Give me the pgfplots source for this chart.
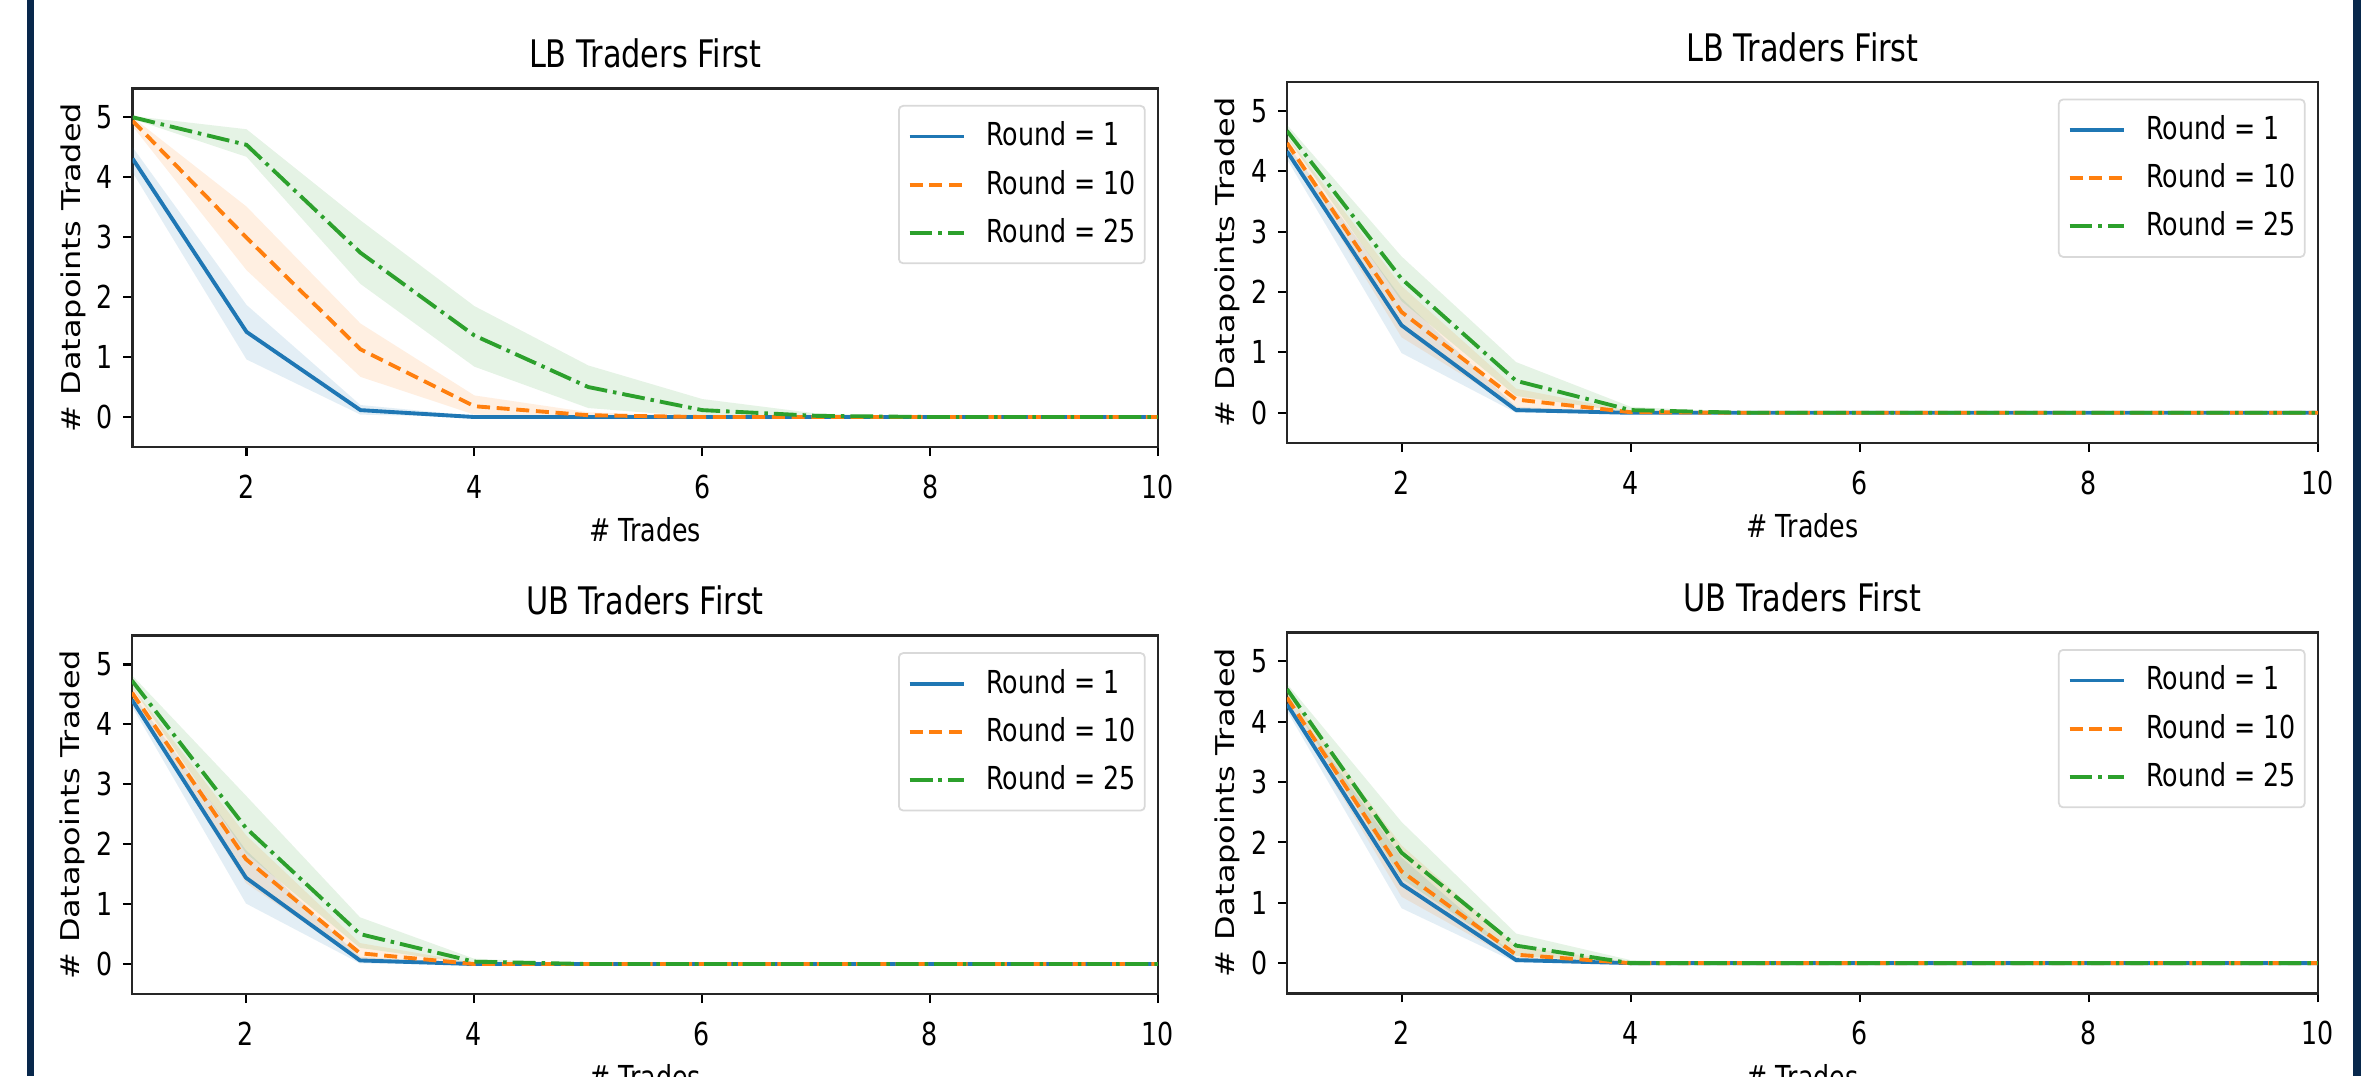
\documentclass[border=0pt]{standalone}
\usepackage{pgfplots}
\pgfplotsset{compat=1.18}
\usepackage{fontspec}
\setmainfont{DejaVu Sans}[FakeStretch=0.8]
\newfontfamily\ylabfont{DejaVu Sans}
\definecolor{cblue}{HTML}{1F77B4}
\definecolor{corange}{HTML}{FF7F0E}
\definecolor{cgreen}{HTML}{2CA02C}
\definecolor{navy}{RGB}{8,40,76}
\pgfplotsset{
  panel/.style={
    scale only axis, anchor=south west,
    xmin=1, xmax=10, ymin=-0.5, ymax=5.48,
    xtick={2,4,6,8,10}, ytick={0,1,2,3,4,5},
    tick pos=left, tick align=outside,
    major tick length=2.6pt,
    every tick/.style={black, line width=0.6pt},
    axis line style={black!85, line width=0.8pt},
    /pgf/number format/assume math mode=true,
    tick label style={font=\fontsize{9}{10}\selectfont},
    xticklabel style={anchor=north, inner sep=0pt, yshift=-5.2pt},
    yticklabel style={anchor=east, inner sep=0pt, xshift=-2.8pt},
    title style={font=\fontsize{10.8}{12}\selectfont, at={(axis description cs:0.5,1)}, anchor=base, yshift=-0.1pt},
    xlabel={\# Trades},
    xlabel style={font=\fontsize{9}{10}\selectfont, at={(axis description cs:0.5,0)}, anchor=base, yshift=-27pt},
    ylabel={\# Datapoints Traded},
    ylabel style={font=\ylabfont\fontsize{9.1}{10}\selectfont, at={(axis description cs:-0.0578,0.5)}, anchor=center, yscale=0.81},
    legend style={at={(axis description cs:0.988,0.954)}, anchor=north east, draw=black!15, line width=0.5pt,
      rounded corners=1.2pt, fill=white, fill opacity=0.8, text opacity=1, draw opacity=1,
      inner xsep=2.5pt, inner ysep=4.6pt, row sep=5.5pt,
      nodes={inner sep=0pt, text height=6.8pt, text depth=1.4pt, font=\fontsize{9}{10}\selectfont},
      /tikz/every odd column/.append style={column sep=5.9pt}},
    legend cell align=left,
    legend image code/.code={\draw[##1] (0pt,0pt) -- (15.4pt,0pt);},
  },
  bandB/.style={fill=cblue, fill opacity=0.12, draw=none, forget plot},
  bandO/.style={fill=corange, fill opacity=0.12, draw=none, forget plot},
  bandG/.style={fill=cgreen, fill opacity=0.12, draw=none, forget plot},
  lineB/.style={cblue, line width=1.1pt, no markers, solid, line join=round},
  lineO/.style={corange, line width=1.1pt, no markers, dash pattern=on 3.7pt off 1.9pt, line join=round},
  lineG/.style={cgreen, line width=1.1pt, no markers, dash pattern=on 6.5pt off 1.7pt on 1pt off 1.7pt, line join=round},
}
\begin{document}
\begin{tikzpicture}
\path[use as bounding box] (0,0) rectangle (23.66cm,10.76cm);
\clip (0,0) rectangle (23.66cm,10.76cm);
\fill[white] (0,0) rectangle (23.66cm,10.76cm);
\fill[navy] (0.275cm,0) rectangle (0.344cm,10.76cm);
\fill[navy] (23.53cm,0) rectangle (23.61cm,10.76cm);

% ---------- top left
\begin{axis}[panel, at={(1.326cm,6.29cm)}, width=10.254cm, height=3.585cm, title={LB Traders First}]
\addplot[bandB] coordinates {(1,4.50)(2,1.87)(3,0.20)(4,0.02)(5,0)(10,0)(10,0)(5,0)(4,0)(3,0.04)(2,0.96)(1,4.08)};
\addplot[bandO] coordinates {(1,5.0)(2,3.51)(3,1.56)(4,0.36)(5,0.08)(6,0.01)(7,0)(10,0)(10,0)(6,0)(5,0)(4,0.04)(3,0.67)(2,2.45)(1,4.85)};
\addplot[bandG] coordinates {(1,5.02)(2,4.80)(3,3.28)(4,1.85)(5,0.86)(6,0.30)(7,0.06)(8,0)(10,0)(10,0)(8,0)(7,0)(6,0)(5,0.15)(4,0.84)(3,2.22)(2,4.34)(1,4.97)};
\addplot[lineB] coordinates {(1,4.31)(2,1.42)(3,0.115)(4,0)(5,0)(6,0)(7,0)(8,0)(9,0)(10,0)};
\addlegendentry{Round = 1}
\addplot[lineO] coordinates {(1,4.94)(2,2.99)(3,1.13)(4,0.18)(5,0.03)(6,0)(7,0)(8,0)(9,0)(10,0)};
\addlegendentry{Round = 10}
\addplot[lineG] coordinates {(1,5.0)(2,4.54)(3,2.74)(4,1.36)(5,0.50)(6,0.115)(7,0.02)(8,0)(9,0)(10,0)};
\addlegendentry{Round = 25}
\end{axis}

% ---------- top right
\begin{axis}[panel, at={(12.87cm,6.33cm)}, width=10.31cm, height=3.61cm, title={LB Traders First}]
\addplot[bandB] coordinates {(1,4.45)(2,1.90)(3,0.10)(4,0)(10,0)(10,0)(4,0)(3,0)(2,0.99)(1,4.20)};
\addplot[bandO] coordinates {(1,4.58)(2,2.10)(3,0.40)(4,0.03)(5,0)(10,0)(10,0)(5,0)(4,0)(3,0.08)(2,1.25)(1,4.36)};
\addplot[bandG] coordinates {(1,4.77)(2,2.59)(3,0.84)(4,0.10)(5,0)(10,0)(10,0)(5,0)(4,0)(3,0.28)(2,1.85)(1,4.56)};
\addplot[lineB] coordinates {(1,4.33)(2,1.45)(3,0.045)(4,0)(5,0)(6,0)(7,0)(8,0)(9,0)(10,0)};
\addlegendentry{Round = 1}
\addplot[lineO] coordinates {(1,4.47)(2,1.67)(3,0.22)(4,0.01)(5,0)(6,0)(7,0)(8,0)(9,0)(10,0)};
\addlegendentry{Round = 10}
\addplot[lineG] coordinates {(1,4.67)(2,2.22)(3,0.53)(4,0.045)(5,0)(6,0)(7,0)(8,0)(9,0)(10,0)};
\addlegendentry{Round = 25}
\end{axis}

% ---------- bottom left
\begin{axis}[panel, at={(1.32cm,0.82cm)}, width=10.26cm, height=3.583cm, title={UB Traders First}]
\addplot[bandB] coordinates {(1,4.52)(2,1.90)(3,0.12)(4,0)(10,0)(10,0)(4,0)(3,0.01)(2,1.01)(1,4.30)};
\addplot[bandO] coordinates {(1,4.63)(2,2.15)(3,0.35)(4,0.02)(5,0)(10,0)(10,0)(5,0)(4,0)(3,0.06)(2,1.35)(1,4.42)};
\addplot[bandG] coordinates {(1,4.82)(2,2.81)(3,0.78)(4,0.09)(5,0)(10,0)(10,0)(5,0)(4,0)(3,0.27)(2,1.85)(1,4.62)};
\addplot[lineB] coordinates {(1,4.41)(2,1.44)(3,0.06)(4,0)(5,0)(6,0)(7,0)(8,0)(9,0)(10,0)};
\addlegendentry{Round = 1}
\addplot[lineO] coordinates {(1,4.53)(2,1.75)(3,0.18)(4,0)(5,0)(6,0)(7,0)(8,0)(9,0)(10,0)};
\addlegendentry{Round = 10}
\addplot[lineG] coordinates {(1,4.73)(2,2.27)(3,0.50)(4,0.04)(5,0)(6,0)(7,0)(8,0)(9,0)(10,0)};
\addlegendentry{Round = 25}
\end{axis}

% ---------- bottom right
\begin{axis}[panel, at={(12.87cm,0.827cm)}, width=10.31cm, height=3.609cm, title={UB Traders First}]
\addplot[bandB] coordinates {(1,4.40)(2,1.75)(3,0.10)(4,0)(10,0)(10,0)(4,0)(3,0.01)(2,0.91)(1,4.18)};
\addplot[bandO] coordinates {(1,4.50)(2,1.95)(3,0.28)(4,0.02)(5,0)(10,0)(10,0)(5,0)(4,0)(3,0.04)(2,1.10)(1,4.30)};
\addplot[bandG] coordinates {(1,4.63)(2,2.34)(3,0.49)(4,0.05)(5,0)(10,0)(10,0)(5,0)(4,0)(3,0.12)(2,1.40)(1,4.44)};
\addplot[lineB] coordinates {(1,4.29)(2,1.31)(3,0.05)(4,0)(5,0)(6,0)(7,0)(8,0)(9,0)(10,0)};
\addlegendentry{Round = 1}
\addplot[lineO] coordinates {(1,4.40)(2,1.52)(3,0.14)(4,0)(5,0)(6,0)(7,0)(8,0)(9,0)(10,0)};
\addlegendentry{Round = 10}
\addplot[lineG] coordinates {(1,4.54)(2,1.83)(3,0.29)(4,0)(5,0)(6,0)(7,0)(8,0)(9,0)(10,0)};
\addlegendentry{Round = 25}
\end{axis}
\end{tikzpicture}
\end{document}
